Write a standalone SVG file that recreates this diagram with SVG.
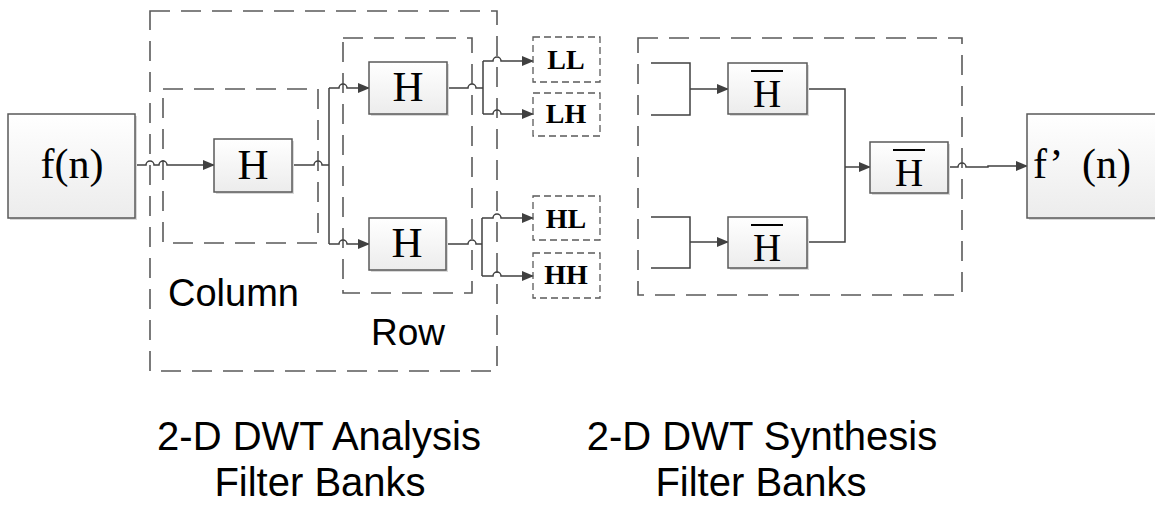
<svg xmlns="http://www.w3.org/2000/svg" width="1155" height="514" viewBox="0 0 1155 514">
<defs>
<linearGradient id="g" x1="0" y1="0" x2="0" y2="1">
<stop offset="0" stop-color="#ffffff"/>
<stop offset="1" stop-color="#ececec"/>
</linearGradient>
<marker id="arr" markerWidth="12" markerHeight="10" refX="11" refY="5" orient="auto" markerUnits="userSpaceOnUse">
<path d="M0,0 L12,5 L0,10 Z" fill="#404040"/>
</marker>
<style>
.box{fill:url(#g);stroke:#5a5a5a;stroke-width:1.5}
.sh{fill:#d9d9d9}
.dash{fill:none;stroke:#5a5a5a;stroke-width:1.6;stroke-dasharray:20 11}
.dash2{fill:none;stroke:#5a5a5a;stroke-width:1.3;stroke-dasharray:7 4}
.c{fill:none;stroke:#404040;stroke-width:1.5}
.ser{font-family:"Liberation Serif","Times New Roman",serif;fill:#000}
.bold{font-family:"Liberation Serif","Times New Roman",serif;font-weight:bold;font-size:28px;fill:#000;text-anchor:middle}
.sans{font-family:"Liberation Sans",Arial,sans-serif;fill:#000}
.ov{stroke:#000;stroke-width:2}
</style>
</defs>
<rect width="1155" height="514" fill="#ffffff"/>

<g id="groups">
<rect id="analysis-outer" class="dash" x="150" y="11" width="347" height="360"/>
<rect id="column-box" class="dash" x="163" y="89" width="155" height="154"/>
<rect id="row-box" class="dash" x="343" y="38" width="129" height="255"/>
<rect id="synthesis-box" class="dash" x="638" y="38" width="324" height="257"/>
</g>

<g id="connectors">
<path class="c" d="M135,165 H146 a4,4 0 0 1 8,0 H159 a4,4 0 0 1 8,0 H214" marker-end="url(#arr)"/>
<path class="c" d="M292,165 H314 a4,4 0 0 1 8,0 H329 M329,88 V244"/>
<path class="c" d="M329,88 H339 a4,4 0 0 1 8,0 H369" marker-end="url(#arr)"/>
<path class="c" d="M329,244 H339 a4,4 0 0 1 8,0 H369" marker-end="url(#arr)"/>
<path class="c" d="M447,88 H468 a4,4 0 0 1 8,0 H483 M483,61 V114"/>
<path class="c" d="M483,61 H493 a4,4 0 0 1 8,0 H533" marker-end="url(#arr)"/>
<path class="c" d="M483,114 H493 a4,4 0 0 1 8,0 H533" marker-end="url(#arr)"/>
<path class="c" d="M446,244 H468 a4,4 0 0 1 8,0 H482 M482,218 V276"/>
<path class="c" d="M482,218 H493 a4,4 0 0 1 8,0 H533" marker-end="url(#arr)"/>
<path class="c" d="M482,276 H493 a4,4 0 0 1 8,0 H533" marker-end="url(#arr)"/>
<path class="c" d="M651,63 H690 V115 H651"/>
<path class="c" d="M690,89 H728" marker-end="url(#arr)"/>
<path class="c" d="M651,217 H690 V268 H651"/>
<path class="c" d="M690,242 H728" marker-end="url(#arr)"/>
<path class="c" d="M807,89 H845 V242 H807"/>
<path class="c" d="M845,167 H870" marker-end="url(#arr)"/>
<path class="c" d="M948,167 H958 a4,4 0 0 1 8,0 H988 V166 H1027" marker-end="url(#arr)"/>
</g>

<g id="fn">
<rect class="sh" x="10" y="116" width="127" height="104"/>
<rect class="box" x="8" y="114" width="127" height="104"/>
<text class="ser" x="72" y="178" font-size="42" text-anchor="middle">f(n)</text>
</g>

<g id="H-column">
<rect class="sh" x="216" y="141" width="78" height="53"/>
<rect class="box" x="214" y="139" width="78" height="53"/>
<text class="ser" x="253" y="179" font-size="43" text-anchor="middle">H</text>
</g>

<g id="H-row-top">
<rect class="sh" x="371" y="64" width="78" height="52"/>
<rect class="box" x="369" y="62" width="78" height="52"/>
<text class="ser" x="408" y="101" font-size="43" text-anchor="middle">H</text>
</g>

<g id="H-row-bottom">
<rect class="sh" x="371" y="220" width="77" height="52"/>
<rect class="box" x="369" y="218" width="77" height="52"/>
<text class="ser" x="407" y="257" font-size="43" text-anchor="middle">H</text>
</g>

<g id="LL">
<rect class="dash2" x="533" y="37" width="67" height="45"/>
<text class="bold" x="566" y="69">LL</text>
</g>
<g id="LH">
<rect class="dash2" x="533" y="93" width="67" height="43"/>
<text class="bold" x="566" y="123">LH</text>
</g>
<g id="HL">
<rect class="dash2" x="533" y="196" width="67" height="44"/>
<text class="bold" x="566" y="228">HL</text>
</g>
<g id="HH">
<rect class="dash2" x="533" y="253" width="67" height="45"/>
<text class="bold" x="566" y="284">HH</text>
</g>

<g id="Hbar-top">
<rect class="sh" x="730" y="65" width="79" height="51"/>
<rect class="box" x="728" y="63" width="79" height="51"/>
<line class="ov" x1="751" y1="71" x2="783" y2="71"/>
<text class="ser" x="767" y="107" font-size="39" text-anchor="middle">H</text>
</g>

<g id="Hbar-bottom">
<rect class="sh" x="730" y="219" width="79" height="51"/>
<rect class="box" x="728" y="217" width="79" height="51"/>
<line class="ov" x1="751" y1="225" x2="783" y2="225"/>
<text class="ser" x="767" y="261" font-size="39" text-anchor="middle">H</text>
</g>

<g id="Hbar-merge">
<rect class="sh" x="872" y="144" width="78" height="51"/>
<rect class="box" x="870" y="142" width="78" height="51"/>
<line class="ov" x1="893" y1="150" x2="925" y2="150"/>
<text class="ser" x="909" y="186" font-size="39" text-anchor="middle">H</text>
</g>

<g id="fpn">
<rect class="sh" x="1029" y="116" width="130" height="104"/>
<rect class="box" x="1027" y="114" width="130" height="104"/>
<text class="ser" font-size="42" y="178"><tspan x="1033">f’</tspan><tspan x="1082">(n)</tspan></text>
</g>

<g id="labels">
<text class="sans" x="168" y="306" font-size="38">Column</text>
<text class="sans" x="371" y="345" font-size="37">Row</text>
<text class="sans" x="319" y="450" font-size="40" text-anchor="middle">2-D DWT Analysis</text>
<text class="sans" x="320" y="496" font-size="40" text-anchor="middle">Filter Banks</text>
<text class="sans" x="762" y="450" font-size="40" text-anchor="middle">2-D DWT Synthesis</text>
<text class="sans" x="761" y="496" font-size="40" text-anchor="middle">Filter Banks</text>
</g>
</svg>
